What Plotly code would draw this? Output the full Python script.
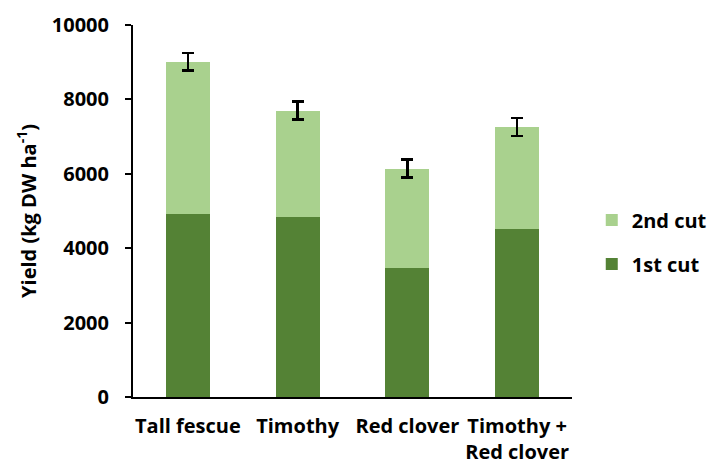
import plotly.graph_objects as go

# Dry-matter yield per sward, split by harvest
categories = ["Tall fescue", "Timothy", "Red clover", "Timothy +<br>Red clover"]
first_cut = [4910, 4850, 3460, 4520]
second_cut = [4100, 2850, 2680, 2740]
total_se = [235, 240, 240, 245]
y_ticks = [0, 2000, 4000, 6000, 8000, 10000]
y_tick_labels = ["0", "2000", "4000", "6000", "8000", "10000"]

FONT = "Open Sans"
DARK = "#548235"
LIGHT = "#A9D18E"
TEXT = dict(family=FONT, size=20, color="black", weight="bold")

fig = go.Figure()
fig.add_trace(go.Bar(
    x=categories, y=first_cut, name="1st cut",
    marker=dict(color=DARK, line=dict(width=0)),
    legend="legend2",
))
fig.add_trace(go.Bar(
    x=categories, y=second_cut, name="2nd cut",
    marker=dict(color=LIGHT, line=dict(width=0)),
    error_y=dict(type="data", array=total_se, visible=True,
                 color="black", thickness=2.5, width=6),
    legend="legend",
))

# Legends placed in container coordinates so they do not shrink the plot area
legend_common = dict(
    xref="container", yref="container",
    xanchor="left", yanchor="middle", x=0.837,
    font=TEXT,
    bgcolor="rgba(0,0,0,0)",
)

fig.update_layout(
    width=707, height=464,
    margin=dict(l=133, r=135, t=25, b=67, autoexpand=False),
    barmode="stack", bargap=0.6,
    plot_bgcolor="white", paper_bgcolor="white",
    font=TEXT,
    showlegend=True,
    legend=dict(y=0.526, **legend_common),
    legend2=dict(y=0.431, **legend_common),
)

fig.update_xaxes(
    showline=True, linecolor="black", linewidth=2,
    ticks="", showgrid=False, tickangle=0, automargin=False,
    tickfont=TEXT, ticklabelstandoff=10,
)
fig.update_yaxes(
    range=[0, 10000], tickmode="array",
    tickvals=y_ticks, ticktext=y_tick_labels,
    showline=True, linecolor="black", linewidth=2,
    ticks="outside", ticklen=6, tickwidth=2, tickcolor="black",
    showgrid=False, zeroline=False, automargin=False,
    tickfont=TEXT, ticklabelstandoff=12,
    title=dict(text="Yield (kg DW ha<sup>-1</sup>)", font=TEXT, standoff=10),
)

fig.write_html("out.html")
